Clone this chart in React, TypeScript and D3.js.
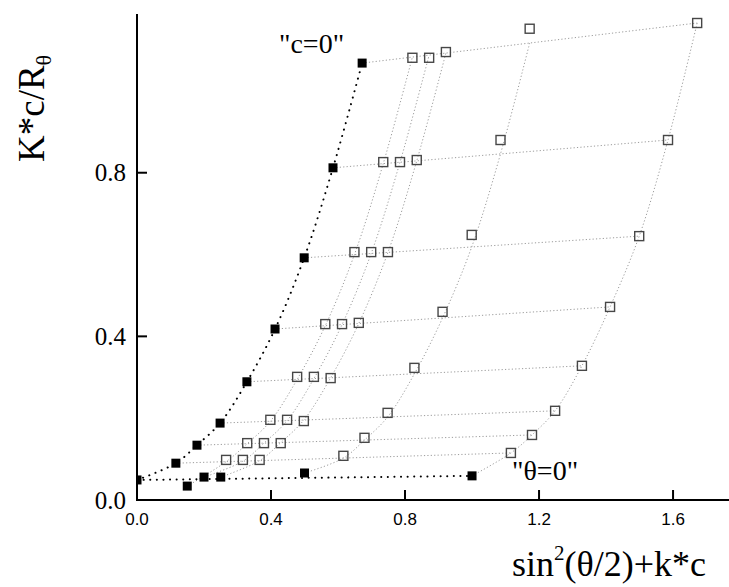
import React, { useEffect, useRef } from "react";
import * as d3 from "d3";

// Zimm plot: rows = scattering angles, columns = concentrations
const sinSq = [0.116, 0.179, 0.248, 0.328, 0.412, 0.499, 0.585, 0.672];
const kc = [0.15, 0.2, 0.25, 0.5, 1.0];

// Kc/R values, one row per angle, one column per concentration
const kcR = [
  [0.098, 0.098, 0.098, 0.108, 0.115],
  [0.139, 0.139, 0.139, 0.152, 0.159],
  [0.196, 0.196, 0.193, 0.213, 0.218],
  [0.301, 0.301, 0.298, 0.323, 0.328],
  [0.43, 0.43, 0.433, 0.46, 0.472],
  [0.606, 0.606, 0.606, 0.648, 0.645],
  [0.826, 0.826, 0.831, 0.88, 0.88],
  [1.081, 1.081, 1.095, 1.152, 1.166],
];

// extrapolated values
const zeroConc = [0.09, 0.134, 0.188, 0.289, 0.418, 0.592, 0.812, 1.068]; // "c=0"
const zeroAngle = [0.034, 0.056, 0.056, 0.066, 0.059]; // "θ=0"
const intercept = 0.049;

const xTicks = [0.0, 0.4, 0.8, 1.2, 1.6];
const yTicks = [0.0, 0.4, 0.8];

const W = 729;
const H = 587;
const SERIF = "'Liberation Serif', 'Times New Roman', serif";
const SANS = "'Liberation Sans', Arial, sans-serif";

const App = () => {
  const ref = useRef<SVGSVGElement>(null);

  useEffect(() => {
    const svg = d3.select(ref.current);
    svg.selectAll("*").remove();

    const x = d3.scaleLinear().domain([0, 1.767]).range([137, 729]);
    const y = d3.scaleLinear().domain([0, 1.188]).range([500, 14]);

    svg
      .append("defs")
      .append("clipPath")
      .attr("id", "plotclip")
      .append("rect")
      .attr("x", x(0))
      .attr("y", 0)
      .attr("width", W - x(0))
      .attr("height", y(0));

    const plot = svg.append("g").attr("clip-path", "url(#plotclip)");

    const line = d3
      .line<number[]>()
      .x((d) => x(d[0]))
      .y((d) => y(d[1]));

    // row fit lines: from c=0 point to the highest concentration point
    const last = kc.length - 1;
    const rowAt = (i: number, xv: number) => {
      const x0 = sinSq[i],
        y0 = zeroConc[i];
      const x1 = sinSq[i] + kc[last],
        y1 = kcR[i][last];
      return y0 + ((y1 - y0) * (xv - x0)) / (x1 - x0);
    };

    const grey = "#9c9c9c";

    sinSq.forEach((s, i) => {
      plot
        .append("path")
        .attr(
          "d",
          line([
            [s, zeroConc[i]],
            [s + kc[last], kcR[i][last]],
          ])
        )
        .style("fill", "none")
        .style("stroke", grey)
        .style("stroke-width", 1)
        .style("stroke-dasharray", "1.2,2.2");
    });

    // column fit curves: from θ=0 point through row-line crossings
    const colLine = d3
      .line<number[]>()
      .x((d) => x(d[0]))
      .y((d) => y(d[1]))
      .curve(d3.curveCatmullRom);

    kc.forEach((k, j) => {
      const pts = [[k, zeroAngle[j]]].concat(
        sinSq.map((s, i) => [s + k, rowAt(i, s + k)])
      );
      plot
        .append("path")
        .attr("d", colLine(pts))
        .style("fill", "none")
        .style("stroke", grey)
        .style("stroke-width", 1)
        .style("stroke-dasharray", "1.2,2.2");
    });

    // c=0 and θ=0 lines (black dotted)
    const c0pts = [[0, intercept]].concat(sinSq.map((s, i) => [s, zeroConc[i]]));
    plot
      .append("path")
      .attr("d", colLine(c0pts))
      .style("fill", "none")
      .style("stroke", "#000")
      .style("stroke-width", 2)
      .style("stroke-linecap", "round")
      .style("stroke-dasharray", "0.1,6.5");

    plot
      .append("path")
      .attr(
        "d",
        line([
          [0, intercept],
          [kc[last], zeroAngle[last]],
        ])
      )
      .style("fill", "none")
      .style("stroke", "#000")
      .style("stroke-width", 2)
      .style("stroke-linecap", "round")
      .style("stroke-dasharray", "0.1,6.5");

    // open squares (measured points)
    const sq = 9;
    const open: number[][] = [];
    sinSq.forEach((s, i) => kc.forEach((k, j) => open.push([s + k, kcR[i][j]])));
    plot
      .selectAll(".open")
      .data(open)
      .enter()
      .append("rect")
      .attr("class", "open")
      .attr("x", (d) => x(d[0]) - sq / 2)
      .attr("y", (d) => y(d[1]) - sq / 2)
      .attr("width", sq)
      .attr("height", sq)
      .style("fill", "none")
      .style("stroke", "#474747")
      .style("stroke-width", 1.4);

    // filled squares (extrapolated points)
    const filled = [[0, intercept]]
      .concat(sinSq.map((s, i) => [s, zeroConc[i]]))
      .concat(kc.map((k, j) => [k, zeroAngle[j]]));
    plot
      .selectAll(".filled")
      .data(filled)
      .enter()
      .append("rect")
      .attr("class", "filled")
      .attr("x", (d) => x(d[0]) - sq / 2)
      .attr("y", (d) => y(d[1]) - sq / 2)
      .attr("width", sq)
      .attr("height", sq)
      .style("fill", "#000");

    // axes
    const ax = svg.append("g");
    ax.append("line")
      .attr("x1", x(0))
      .attr("x2", W)
      .attr("y1", y(0))
      .attr("y2", y(0))
      .style("stroke", "#000")
      .style("stroke-width", 2);
    ax.append("line")
      .attr("x1", x(0))
      .attr("x2", x(0))
      .attr("y1", y(0) + 1)
      .attr("y2", y(1.188))
      .style("stroke", "#000")
      .style("stroke-width", 2);

    xTicks.forEach((t) => {
      if (t > 0) {
        ax.append("line")
          .attr("x1", x(t))
          .attr("x2", x(t))
          .attr("y1", y(0))
          .attr("y2", y(0) - 10)
          .style("stroke", "#000")
          .style("stroke-width", 2);
      }
      ax.append("text")
        .attr("x", x(t))
        .attr("y", 525)
        .attr("text-anchor", "middle")
        .style("font-family", SANS)
        .style("font-size", "17px")
        .text(t.toFixed(1));
    });

    yTicks.forEach((t) => {
      if (t > 0) {
        ax.append("line")
          .attr("x1", x(0))
          .attr("x2", x(0) + 10)
          .attr("y1", y(t))
          .attr("y2", y(t))
          .style("stroke", "#000")
          .style("stroke-width", 2);
      }
      ax.append("text")
        .attr("x", 126)
        .attr("y", y(t) + 8.5)
        .attr("text-anchor", "end")
        .style("font-family", SERIF)
        .style("font-size", "25px")
        .text(t.toFixed(1));
    });

    // axis titles
    const yt = svg
      .append("text")
      .attr("transform", "translate(44,162) rotate(-90)")
      .style("font-family", SERIF)
      .style("font-size", "37px");
    yt.append("tspan").text("K*c/R");
    yt.append("tspan")
      .attr("dy", "0.3em")
      .style("font-size", "22px")
      .text("θ");

    const xt = svg
      .append("text")
      .attr("x", 512)
      .attr("y", 576)
      .style("font-family", SERIF)
      .style("font-size", "36px");
    xt.append("tspan").text("sin");
    xt.append("tspan")
      .attr("dy", "-0.75em")
      .style("font-size", "21px")
      .text("2");
    xt.append("tspan").attr("dy", "0.44em").text("(θ/2)+k*c");

    // annotations
    svg
      .append("text")
      .attr("x", 279)
      .attr("y", 53)
      .style("font-family", SERIF)
      .style("font-size", "28px")
      .text('"c=0"');
    svg
      .append("text")
      .attr("x", 512)
      .attr("y", 480)
      .style("font-family", SERIF)
      .style("font-size", "28px")
      .text('"θ=0"');
  }, []);

  return (
    <svg
      ref={ref}
      width={W}
      height={H}
      style={{ position: "absolute", left: 0, top: 0, background: "#fff" }}
    />
  );
};

export default App;
